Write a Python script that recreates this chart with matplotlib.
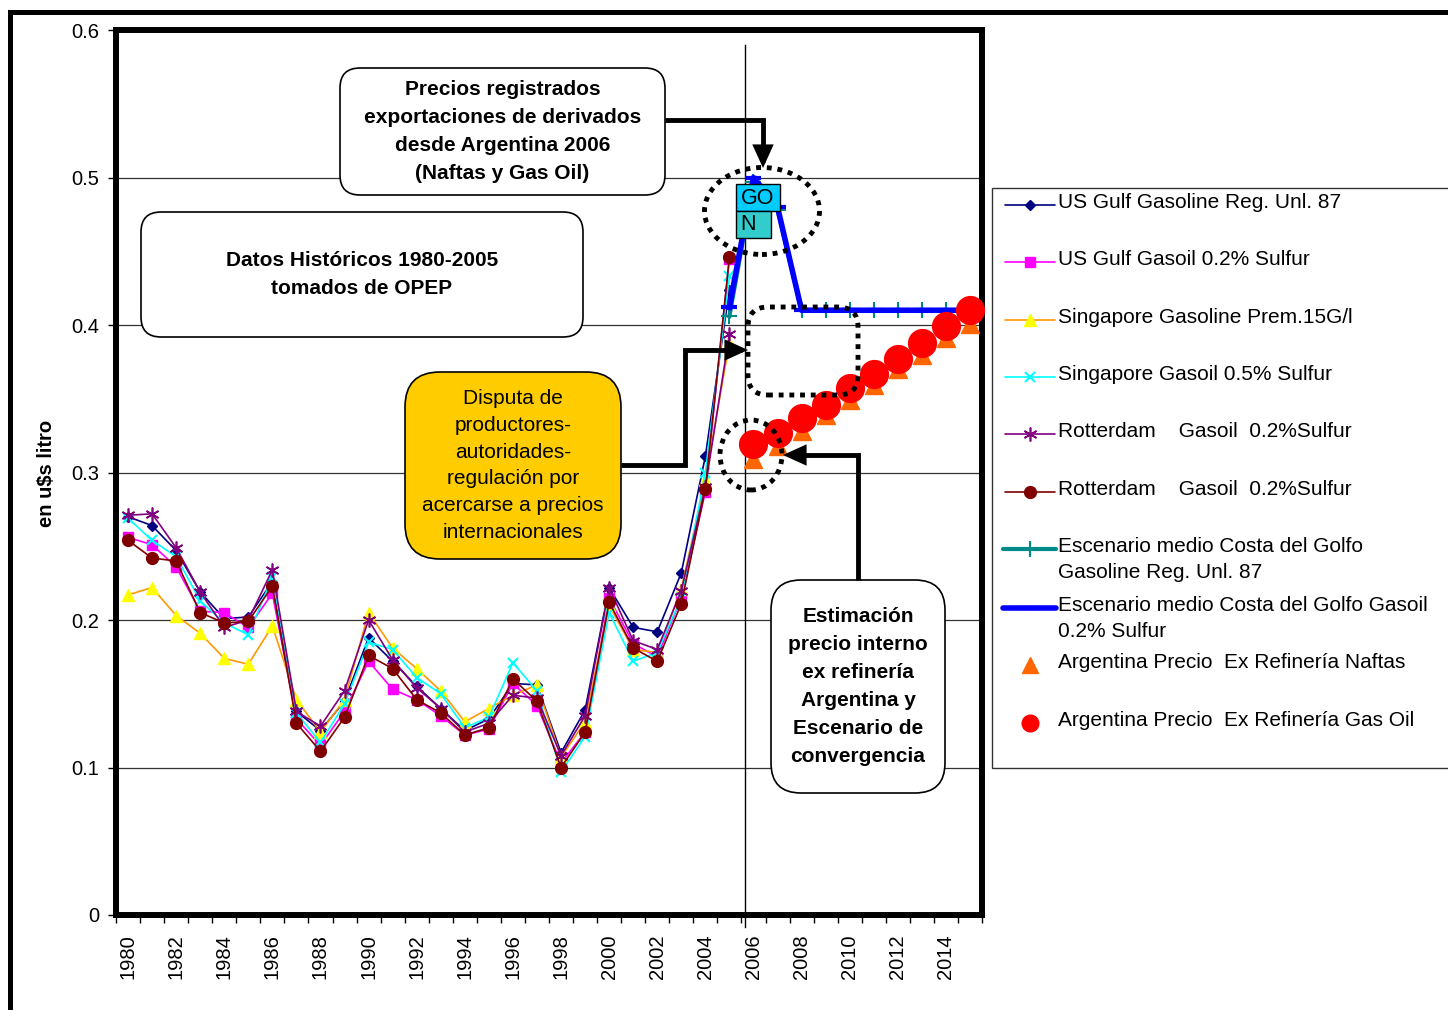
import numpy as np
import matplotlib.pyplot as plt
from matplotlib.patches import FancyBboxPatch, Ellipse, Rectangle, FancyArrowPatch
from matplotlib.lines import Line2D
from matplotlib.path import Path

plt.rcParams['font.family'] = ['Liberation Sans', 'DejaVu Sans']

# --- data (u$s por litro) ---
years_hist = list(range(1980, 2006))
us_gulf_gasoline = [0.270, 0.264, 0.247, 0.219, 0.201, 0.202, 0.226, 0.138, 0.125, 0.145,
                    0.188, 0.172, 0.155, 0.140, 0.125, 0.133, 0.157, 0.156, 0.110, 0.139,
                    0.222, 0.195, 0.192, 0.232, 0.311, 0.424]
us_gulf_gasoil = [0.256, 0.251, 0.236, 0.206, 0.205, 0.195, 0.218, 0.133, 0.115, 0.138,
                  0.172, 0.153, 0.146, 0.135, 0.122, 0.126, 0.157, 0.142, 0.103, 0.124,
                  0.215, 0.184, 0.175, 0.215, 0.287, 0.445]
sing_gasoline = [0.217, 0.222, 0.203, 0.191, 0.174, 0.170, 0.196, 0.146, 0.124, 0.146,
                 0.205, 0.181, 0.167, 0.152, 0.131, 0.140, 0.149, 0.156, 0.107, 0.131,
                 0.210, 0.180, 0.178, 0.221, 0.295, 0.388]
sing_gasoil = [0.269, 0.254, 0.243, 0.213, 0.198, 0.190, 0.229, 0.137, 0.117, 0.143,
               0.185, 0.180, 0.161, 0.150, 0.127, 0.134, 0.171, 0.152, 0.097, 0.121,
               0.205, 0.172, 0.178, 0.215, 0.300, 0.433]
rott_gasoil_a = [0.271, 0.272, 0.249, 0.219, 0.195, 0.200, 0.234, 0.138, 0.128, 0.152,
                 0.200, 0.173, 0.154, 0.140, 0.124, 0.130, 0.149, 0.147, 0.108, 0.135,
                 0.222, 0.186, 0.180, 0.220, 0.290, 0.394]
rott_gasoil_b = [0.254, 0.242, 0.240, 0.205, 0.198, 0.199, 0.223, 0.130, 0.111, 0.134,
                 0.176, 0.167, 0.146, 0.137, 0.122, 0.127, 0.160, 0.145, 0.100, 0.124,
                 0.212, 0.181, 0.172, 0.211, 0.289, 0.446]

years_esc = list(range(2005, 2016))
esc_gasoline = [0.406, 0.497, 0.478, 0.410, 0.410, 0.410, 0.410, 0.410, 0.410, 0.410, 0.410]
esc_gasoil = [0.412, 0.500, 0.480, 0.410, 0.410, 0.410, 0.410, 0.410, 0.410, 0.410, 0.410]

years_arg = list(range(2006, 2016))
arg_naftas = [0.309, 0.318, 0.328, 0.339, 0.349, 0.359, 0.370, 0.380, 0.391, 0.401]
arg_gasoil = [0.319, 0.327, 0.337, 0.346, 0.357, 0.367, 0.377, 0.388, 0.399, 0.410]

labels = ["US Gulf Gasoline Reg. Unl. 87",
          "US Gulf Gasoil 0.2% Sulfur",
          "Singapore Gasoline Prem.15G/l",
          "Singapore Gasoil 0.5% Sulfur",
          "Rotterdam    Gasoil  0.2%Sulfur",
          "Rotterdam    Gasoil  0.2%Sulfur",
          "Escenario medio Costa del Golfo\nGasoline Reg. Unl. 87",
          "Escenario medio Costa del Golfo Gasoil\n0.2% Sulfur",
          "Argentina Precio  Ex Refinería Naftas",
          "Argentina Precio  Ex Refinería Gas Oil"]

styles = [
    dict(color='#000080', marker='D', ms=5.5, mfc='#000080', mec='#000080', lw=1.2),
    dict(color='#FF00FF', marker='s', ms=7.5, mfc='#FF00FF', mec='#FF00FF', lw=1.2),
    dict(color='#FF9900', marker='^', ms=8.5, mfc='#FFFF00', mec='#FFFF00', lw=1.2),
    dict(color='#00FFFF', marker='x', ms=7, mew=1.5, lw=1.2),
    dict(color='#800080', marker=(6, 2, 0), ms=10, mew=1.2, lw=1.2),
    dict(color='#800000', marker='o', ms=8.5, mfc='#800000', mec='#800000', lw=1.2),
    dict(color='#008B8B', marker='+', ms=12, mew=1.5, lw=3),
    dict(color='#0000FF', marker='_', ms=12, mew=3, lw=4),
    dict(color='#FF6600', marker='^', ms=13, ls='none'),
    dict(color='#FF0000', marker='o', ms=20, ls='none'),
]

W, H = 1448, 1010
fig = plt.figure(figsize=(W / 100, H / 100), dpi=100)
ax = fig.add_axes([116 / W, 1 - 915 / H, (982 - 116) / W, (915 - 30) / H])
T = fig.dpi_scale_trans


def px(x, y):
    # pixel position (from top-left) to inches for dpi_scale_trans
    return (x / 100, (H - y) / 100)


series = [(years_hist, us_gulf_gasoline), (years_hist, us_gulf_gasoil),
          (years_hist, sing_gasoline), (years_hist, sing_gasoil),
          (years_hist, rott_gasoil_a), (years_hist, rott_gasoil_b),
          (years_esc, esc_gasoline), (years_esc, esc_gasoil),
          (years_arg, arg_naftas), (years_arg, arg_gasoil)]

for i, ((xs, ys), st) in enumerate(zip(series, styles)):
    ax.plot(xs, ys, zorder=3 + i, clip_on=False, **st)

ax.set_xlim(1979.5, 2015.5)
ax.set_ylim(0, 0.6)
ax.set_yticks(np.arange(0, 0.61, 0.1))
ax.set_yticklabels(['0', '0.1', '0.2', '0.3', '0.4', '0.5', '0.6'])
ax.set_xticks(np.arange(1979.5, 2016, 1))
ax.set_xticklabels([])
ax.set_xticks(range(1980, 2016, 2), minor=True)
ax.set_xticklabels([str(y) for y in range(1980, 2016, 2)], minor=True, rotation=90)
ax.tick_params(axis='x', which='major', length=6, width=1, direction='out')
ax.tick_params(axis='x', which='minor', length=0, pad=14, labelsize=14.5)
ax.tick_params(axis='y', length=6, width=1, direction='out', pad=6, labelsize=14.5)
for y in [0.1, 0.2, 0.3, 0.4, 0.5]:
    ax.axhline(y, color='#333333', lw=0.9, zorder=1)
for s in ax.spines.values():
    s.set_linewidth(4.3)
ax.set_ylabel('en u$s litro', fontsize=14.5, fontweight='bold')
ax.yaxis.set_label_coords((56 - 116) / 866, (915 - 473) / 885)

# vertical marker line around 2006
ax.plot([2005.65, 2005.65], [0.59, -0.008], color='black', lw=1, clip_on=False, zorder=2)

# outer frame
fig.add_artist(Rectangle(px(10, 1030), 14.6, 10.18, transform=T, fill=False,
                         lw=3.6, ec='black', clip_on=False))

# text boxes
def box(x0, y0, x1, y1, text, fc='white', weight='bold', r=0.2, ls=1.6):
    fig.add_artist(FancyBboxPatch(px(x0, y1), (x1 - x0) / 100, (y1 - y0) / 100,
                                  boxstyle='round,pad=0,rounding_size=%s' % r,
                                  transform=T, fc=fc, ec='black', lw=1.2))
    cx, cy = px((x0 + x1) / 2, (y0 + y1) / 2)
    fig.text(cx, cy, text, transform=T, ha='center', va='center', fontsize=15,
             fontweight=weight, linespacing=ls)


box(340, 68, 665, 195, "Precios registrados\nexportaciones de derivados\ndesde Argentina 2006\n(Naftas y Gas Oil)")
box(141, 212, 583, 337, "Datos Históricos 1980-2005\ntomados de OPEP")
box(405, 372, 621, 559, "Disputa de\nproductores-\nautoridades-\nregulación por\nacercarse a precios\ninternacionales",
    fc='#FFCC00', weight='normal', r=0.35, ls=1.53)
box(771, 580, 945, 793, "Estimación\nprecio interno\nex refinería\nArgentina y\nEscenario de\nconvergencia", r=0.3)

# GO / N labels
fig.add_artist(Rectangle(px(736, 211), 0.44, 0.27, transform=T, fc='#00CCFF', ec='black', lw=1))
fig.add_artist(Rectangle(px(736, 238), 0.35, 0.27, transform=T, fc='#33CCCC', ec='black', lw=1))
fig.text(*px(758, 198), "GO", transform=T, ha='center', va='center', fontsize=15.5)
fig.text(*px(748, 225), "N", transform=T, ha='center', va='center', fontsize=15.5)

# dotted highlights
dot = dict(fill=False, ec='black', lw=3.5, ls=(0, (1, 1.2)), transform=T)
fig.add_artist(Ellipse(px(762, 211), 1.15, 0.87, **dot))
fig.add_artist(Ellipse(px(751, 455), 0.62, 0.70, **dot))
fig.add_artist(FancyBboxPatch(px(748, 395), 1.10, 0.88,
                              boxstyle='round,pad=0,rounding_size=0.2', **dot))

# arrows
def arrow(points):
    path = Path([px(*p) for p in points])
    fig.add_artist(FancyArrowPatch(path=path, arrowstyle='-|>,head_length=0.55,head_width=0.25',
                                   mutation_scale=20, lw=3.5, color='black', transform=T,
                                   joinstyle='miter', capstyle='butt'))


arrow([(665, 120), (763, 120), (763, 168)])
arrow([(621, 465), (685, 465), (685, 350), (748, 350)])
arrow([(858, 580), (858, 455), (783, 455)])

# legend (drawn by hand to keep Excel-like row spacing)
fig.add_artist(Rectangle(px(992, 768), 5.0, 5.80, transform=T, fill=False,
                         ec='#333333', lw=1, clip_on=False))
rows = [205, 262, 320, 377, 434, 492, 549, 608, 665, 723]
for lab, st, yr in zip(labels, styles, rows):
    kw = dict(st)
    lw = kw.pop('lw', None)
    ls = kw.pop('ls', '-')
    if ls != 'none':
        x0, x1 = (1005, 1055) if lw < 2 else (1003, 1056)
        fig.add_artist(Line2D([x0 / 100, x1 / 100], [(H - yr) / 100] * 2, transform=T,
                              color=st['color'], lw=lw, solid_capstyle='round'))
    km = dict(kw)
    km['ms'] = min(km['ms'], 12)
    fig.add_artist(Line2D([1030 / 100], [(H - yr) / 100], transform=T, ls='none', **km))
    fig.text(1058 / 100, (H - yr + 12) / 100, lab, transform=T, ha='left', va='top',
             fontsize=15, linespacing=1.45)

fig.savefig('out.png', dpi=100)
